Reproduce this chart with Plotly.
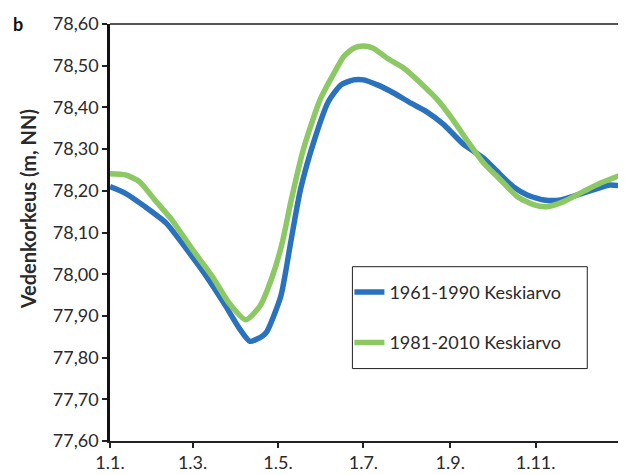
import plotly.graph_objects as go

# Day of year (0 = 1.1.) and water level (m, NN)
days_1961 = [0, 11, 25, 40, 54, 68, 82, 92, 100, 109, 112, 122, 129, 136, 146, 156, 165, 174, 181,
             191, 203, 215, 226, 238, 253, 267, 279, 288, 298, 310, 322, 334, 345, 357, 365]
level_1961 = [78.210, 78.194, 78.162, 78.123, 78.063, 77.999, 77.927, 77.872, 77.839, 77.852, 77.862,
              77.947, 78.075, 78.202, 78.322, 78.414, 78.454, 78.466, 78.466, 78.454, 78.434,
              78.410, 78.390, 78.360, 78.310, 78.278, 78.238, 78.210, 78.190, 78.178, 78.178,
              78.190, 78.202, 78.214, 78.212]

days_1981 = [0, 11, 21, 32, 44, 59, 73, 85, 97, 107, 116, 123, 129, 138, 150, 160, 167, 174, 181,
             188, 198, 210, 222, 234, 245, 256, 267, 279, 291, 303, 312, 324, 338, 350, 365]
level_1981 = [78.241, 78.238, 78.222, 78.178, 78.131, 78.059, 77.995, 77.931, 77.891, 77.923, 77.995,
              78.075, 78.171, 78.298, 78.418, 78.482, 78.522, 78.542, 78.547, 78.542, 78.518,
              78.494, 78.458, 78.418, 78.370, 78.316, 78.266, 78.226, 78.186, 78.166, 78.162,
              78.174, 78.198, 78.218, 78.238]

tick_days = [0, 59, 120, 181, 243, 304]
tick_labels = ["1.1.", "1.3.", "1.5.", "1.7.", "1.9.", "1.11."]

series_names = ["1961-1990 Keskiarvo", "1981-2010 Keskiarvo"]
colors = ["#2a72bd", "#8cc863"]

FONT = "Lato, 'Open Sans', sans-serif"

fig = go.Figure()
fig.add_trace(go.Scatter(x=days_1961, y=level_1961, mode="lines", name=series_names[0],
                         legendgroup="a", line=dict(color=colors[0], width=5.5, shape="spline", smoothing=0.6)))
fig.add_trace(go.Scatter(x=days_1981, y=level_1981, mode="lines", name=series_names[1],
                         legendgroup="b", line=dict(color=colors[1], width=5.5, shape="spline", smoothing=0.6)))

# the page body adds an 8px offset; figure is sized so the plot area lands where the reference has it
fig.update_layout(
    width=618, height=467,
    margin=dict(l=101.5, r=5.3, t=16, b=33.5),
    plot_bgcolor="white", paper_bgcolor="white",
    separators=",.",
    font=dict(family=FONT, size=18, color="#2a2a2a"),
    showlegend=True,
    legend=dict(x=0.4685, y=0.401, xanchor="left", yanchor="top",
                bgcolor="rgba(0,0,0,0)", borderwidth=0,
                font=dict(size=18, family=FONT, color="#2a2a2a"),
                tracegroupgap=24, traceorder="grouped",
                itemwidth=30),
    xaxis=dict(range=[0, 365], tickvals=tick_days, ticktext=tick_labels, automargin=False,
               ticks="outside", ticklen=5, tickcolor="#222", tickwidth=1.5,
               showline=True, linecolor="#222", linewidth=1.5, showgrid=False, zeroline=False,
               tickfont=dict(size=18)),
    yaxis=dict(range=[77.60, 78.60], dtick=0.1, tick0=77.6, tickformat=".2f", automargin=False,
               ticks="outside", ticklen=5, tickcolor="#222", tickwidth=1.5,
               showline=True, linecolor="#111", linewidth=2.5, showgrid=False, zeroline=False,
               tickfont=dict(size=18)),
    shapes=[
        dict(type="line", xref="paper", yref="paper", x0=0, x1=1, y0=1, y1=1,
             line=dict(color="#555", width=2)),
        dict(type="line", xref="paper", yref="paper", x0=1, x1=1, y0=0, y1=1,
             line=dict(color="#444", width=1.5)),
        # legend frame
        dict(type="rect", xref="paper", yref="paper", x0=0.4744, x1=0.934, y0=0.1737, y1=0.418,
             fillcolor="white", line=dict(color="#222", width=1), layer="above"),
    ],
    annotations=[
        dict(text="<b>b</b>", xref="paper", yref="paper", x=-0.18, y=1.0,
             xanchor="center", yanchor="middle", showarrow=False, font=dict(size=18, color="#111")),
        dict(text="<b>Vedenkorkeus (m, NN)</b>", xref="paper", yref="paper", x=-0.1614, y=0.5545,
             xanchor="center", yanchor="middle", textangle=-90, showarrow=False,
             font=dict(size=20, color="#2a2a2a")),
    ],
)

fig.write_html("out.html")
